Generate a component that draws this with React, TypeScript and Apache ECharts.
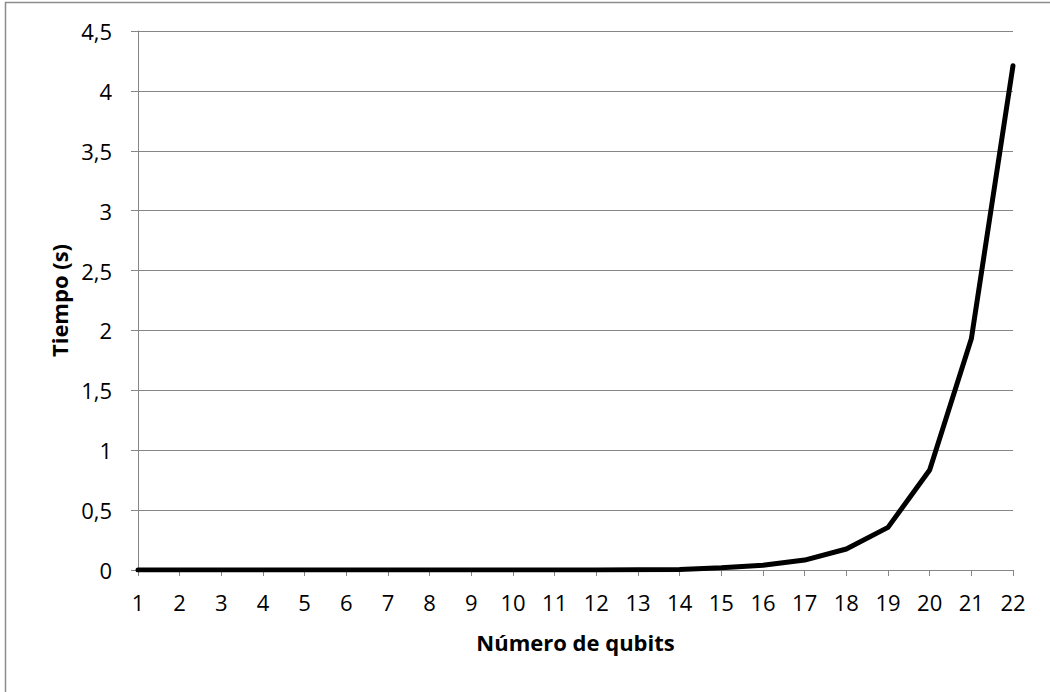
import React, { useEffect, useRef } from "react";
import * as echarts from "echarts";

const qubits: string[] = ["1","2","3","4","5","6","7","8","9","10","11","12","13","14","15","16","17","18","19","20","21","22"];
const tiempo: number[] = [0, 0, 0, 0, 0, 0, 0, 0, 0.0001, 0.0002, 0.0004, 0.0008, 0.002, 0.005, 0.018, 0.04, 0.083, 0.175, 0.356, 0.835, 1.93, 4.21];
const yTicks = { min: 0, max: 4.5, interval: 0.5 };

const FONT = "'Open Sans', sans-serif";

export default function App() {
  const ref = useRef<HTMLDivElement>(null);
  useEffect(() => {
    if (!ref.current) return;
    const chart = echarts.init(ref.current, null, { renderer: "svg" });
    chart.setOption({
      animation: false,
      backgroundColor: "#ffffff",
      graphic: [
        {
          type: "rect",
          shape: { x: 5.5, y: 2.5, width: 1100, height: 750 },
          style: { fill: "none", stroke: "#8c8c8c", lineWidth: 1.5 },
          silent: true,
        },
      ],
      grid: { left: 138, right: 37, top: 31, bottom: 122, containLabel: false },
      xAxis: {
        type: "category",
        data: qubits,
        boundaryGap: false,
        name: "Número de qubits",
        nameLocation: "middle",
        nameGap: 61,
        nameTextStyle: { fontFamily: FONT, fontWeight: "bold", fontSize: 22, color: "#000" },
        axisLine: { lineStyle: { color: "#868686", width: 1 } },
        axisTick: { show: true, length: 6, lineStyle: { color: "#868686" } },
        axisLabel: { fontFamily: FONT, fontSize: 22, color: "#000", margin: 21 },
        splitLine: { show: false },
      },
      yAxis: {
        type: "value",
        min: yTicks.min,
        max: yTicks.max,
        interval: yTicks.interval,
        name: "Tiempo (s)",
        nameLocation: "middle",
        nameGap: 67,
        nameRotate: 90,
        nameTextStyle: { fontFamily: FONT, fontWeight: "bold", fontSize: 22, color: "#000" },
        axisLine: { show: true, lineStyle: { color: "#868686", width: 1 } },
        axisTick: { show: true, length: 7, lineStyle: { color: "#868686" } },
        axisLabel: {
          fontFamily: FONT,
          fontSize: 22,
          color: "#000",
          margin: 26,
          formatter: (v: number) => String(v).replace(".", ","),
        },
        splitLine: { show: true, lineStyle: { color: "#868686", width: 1 } },
      },
      series: [
        {
          type: "line",
          data: tiempo,
          showSymbol: false,
          symbol: "none",
          lineStyle: { color: "#000", width: 5, cap: "round", join: "round" },
        },
      ],
    });
    return () => chart.dispose();
  }, []);
  return (
    <div
      ref={ref}
      style={{ position: "absolute", left: 0, top: 0, width: 1050, height: 692 }}
    />
  );
}
